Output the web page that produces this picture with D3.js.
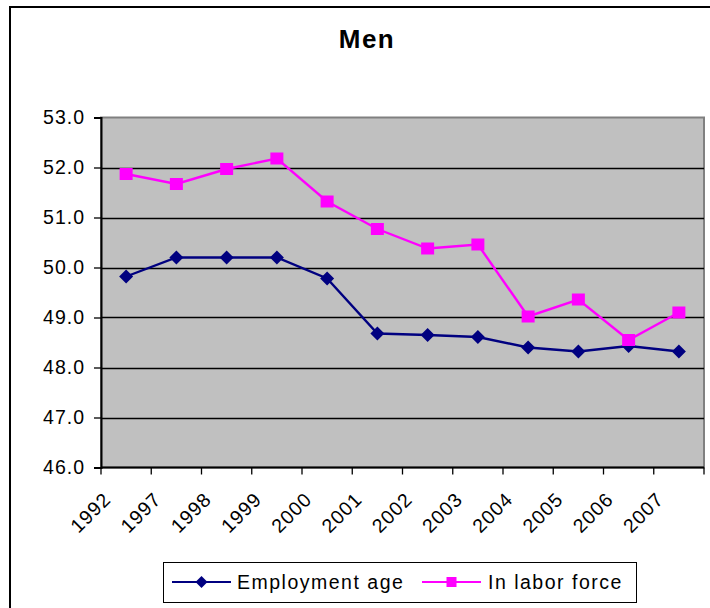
<!DOCTYPE html>
<html>
<head>
<meta charset="utf-8">
<script src="https://cdn.jsdelivr.net/npm/d3@7"></script>
<style>
  html, body { margin: 0; padding: 0; background: #fff; }
  svg { display: block; }
  text { font-family: "Liberation Sans", Arial, sans-serif; fill: #000; }
</style>
</head>
<body>
<svg id="chart" width="710" height="608"></svg>
<script>
const categories = ["1992","1997","1998","1999","2000","2001","2002","2003","2004","2005","2006","2007"];
const employmentAge = [49.82, 50.20, 50.20, 50.20, 49.78, 48.68, 48.65, 48.61, 48.40, 48.32, 48.43, 48.32];
const inLaborForce  = [51.87, 51.67, 51.97, 52.18, 51.32, 50.77, 50.38, 50.46, 49.02, 49.36, 48.55, 49.10];
const yTicks = [46, 47, 48, 49, 50, 51, 52, 53];
const seriesNames = ["Employment age", "In labor force"];
const seriesColors = ["#000080", "#FF00FF"];
const chartTitle = "Men";

const svg = d3.select("#chart");
const FS = 19.5;  // font size
const LS = 1;     // letter spacing

// outer frame
svg.append("rect").attr("x", 10).attr("y", 7).attr("width", 720).attr("height", 640)
  .attr("fill", "#fff").attr("stroke", "#000").attr("stroke-width", 2);

// title
svg.append("text").attr("x", 367).attr("y", 48).attr("text-anchor", "middle")
  .style("font-size", "26px").style("font-weight", "bold").style("letter-spacing", "1.5px")
  .text(chartTitle);

const plot = { left: 101, right: 704, top: 117.5, bottom: 467.5 };
const x = d3.scaleBand().domain(categories).range([plot.left, plot.right]).padding(0);
const y = d3.scaleLinear().domain([46, 53]).range([plot.bottom, plot.top]);

// plot background
svg.append("rect").attr("x", plot.left).attr("y", plot.top)
  .attr("width", plot.right - plot.left).attr("height", plot.bottom - plot.top)
  .attr("fill", "#C0C0C0").attr("stroke", "#808080").attr("stroke-width", 2);

// gridlines
svg.append("g").selectAll("line").data(yTicks.filter(d => d > 46 && d < 53)).join("line")
  .attr("x1", plot.left).attr("x2", plot.right)
  .attr("y1", d => Math.round(y(d)) + 0.5).attr("y2", d => Math.round(y(d)) + 0.5)
  .attr("stroke", "#000").attr("stroke-width", 1.3);

// y axis
const yAxis = svg.append("g").attr("transform", `translate(${plot.left},0)`)
  .call(d3.axisLeft(y).tickValues(yTicks).tickFormat(d3.format(".1f")).tickSize(7).tickPadding(10));
yAxis.select(".domain").attr("stroke", "#000").attr("stroke-width", 2);
yAxis.selectAll(".tick line").attr("stroke", "#000").attr("stroke-width", 1.3);
yAxis.selectAll(".tick text").style("font-size", FS + "px").style("font-family", "Liberation Sans, Arial, sans-serif")
  .style("letter-spacing", LS + "px").attr("dx", LS).attr("fill", "#000");

// x axis line
svg.append("line").attr("x1", plot.left).attr("x2", plot.right)
  .attr("y1", plot.bottom).attr("y2", plot.bottom).attr("stroke", "#000").attr("stroke-width", 2);
// x boundary ticks
const bounds = categories.map(c => x(c)).concat([x.range()[1]]);
svg.append("g").selectAll("line").data(bounds).join("line")
  .attr("x1", d => d).attr("x2", d => d)
  .attr("y1", plot.bottom).attr("y2", plot.bottom + 7)
  .attr("stroke", "#000").attr("stroke-width", 1.3);
// x labels
svg.append("g").selectAll("text").data(categories).join("text")
  .attr("transform", d => `translate(${x(d) + x.bandwidth() / 2 - 15 + LS},${plot.bottom + 33}) rotate(-45)`)
  .attr("text-anchor", "end")
  .style("font-size", FS + "px").style("letter-spacing", LS + "px")
  .text(d => d);

// lines & markers
const seriesData = [employmentAge, inLaborForce];
const line = d3.line().x((d, i) => x(categories[i]) + x.bandwidth() / 2).y(d => y(d));
seriesData.forEach((vals, si) => {
  svg.append("path").datum(vals).attr("d", line)
    .attr("fill", "none").attr("stroke", seriesColors[si]).attr("stroke-width", 2.4);
});
// diamonds
svg.append("g").selectAll("path").data(employmentAge).join("path")
  .attr("transform", (d, i) => `translate(${x(categories[i]) + x.bandwidth() / 2},${y(d)})`)
  .attr("d", "M0,-7L7,0L0,7L-7,0Z").attr("fill", seriesColors[0]);
// squares
svg.append("g").selectAll("rect").data(inLaborForce).join("rect")
  .attr("x", (d, i) => x(categories[i]) + x.bandwidth() / 2 - 6.5)
  .attr("y", d => y(d) - 6)
  .attr("width", 13).attr("height", 12).attr("fill", seriesColors[1]);

// legend
const lg = svg.append("g");
lg.append("rect").attr("x", 163.5).attr("y", 562.5).attr("width", 473).attr("height", 40)
  .attr("fill", "#fff").attr("stroke", "#000").attr("stroke-width", 1);
const legendItems = [
  { x1: 172, x2: 231, tx: 237 },
  { x1: 422, x2: 481, tx: 488 }
];
legendItems.forEach((it, i) => {
  const cy = 582;
  lg.append("line").attr("x1", it.x1).attr("x2", it.x2).attr("y1", cy).attr("y2", cy)
    .attr("stroke", seriesColors[i]).attr("stroke-width", 2);
  const mx = (it.x1 + it.x2) / 2;
  if (i === 0) {
    lg.append("path").attr("transform", `translate(${mx},${cy})`)
      .attr("d", "M0,-6L6,0L0,6L-6,0Z").attr("fill", seriesColors[i]);
  } else {
    lg.append("rect").attr("x", mx - 5).attr("y", cy - 5).attr("width", 10).attr("height", 10)
      .attr("fill", seriesColors[i]);
  }
  lg.append("text").attr("x", it.tx).attr("y", cy + 7)
    .style("font-size", FS + "px").style("letter-spacing", "1.5px").text(seriesNames[i]);
});
</script>
</body>
</html>
